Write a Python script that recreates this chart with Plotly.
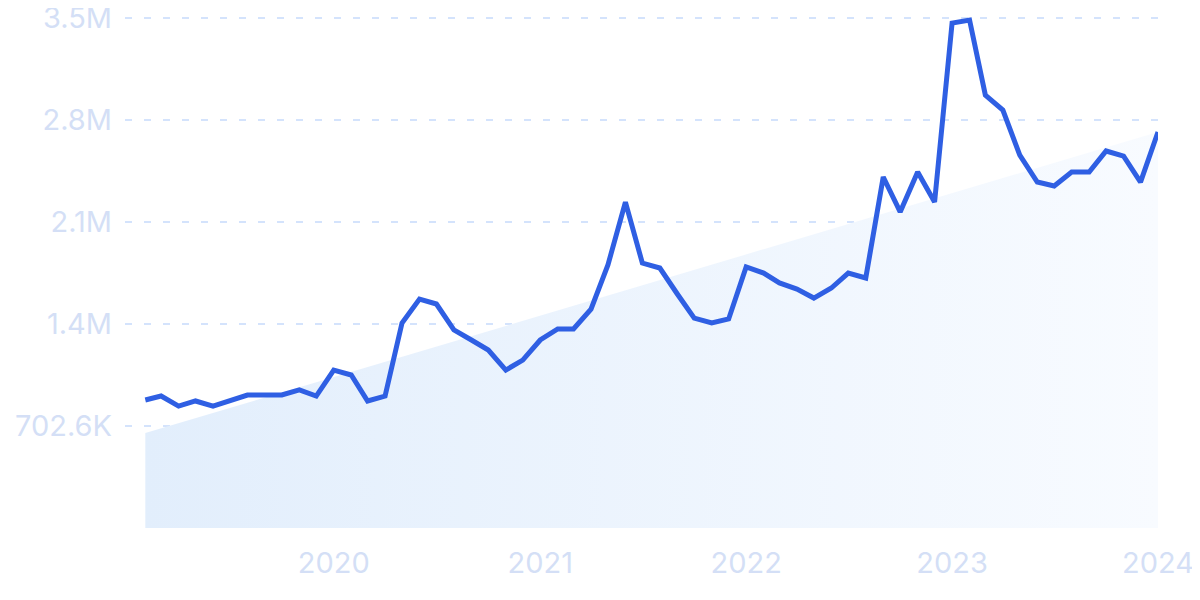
import plotly.graph_objects as go
import pandas as pd

dates = pd.date_range("2019-02-01", "2024-01-01", freq="MS")
values = [882, 909, 840, 875, 840, 875, 916, 916, 916, 951, 909, 1088,
          1054, 875, 909, 1412, 1577, 1543, 1364, 1295, 1226, 1088, 1157, 1295,
          1371, 1371, 1508, 1812, 2245, 1825, 1791, 1612, 1446, 1412, 1440, 1798,
          1756, 1688, 1646, 1584, 1653, 1756, 1722, 2418, 2177, 2452, 2245, 3478,
          3499, 2982, 2879, 2569, 2383, 2356, 2452, 2452, 2597, 2562, 2383, 2728]
values = [v * 1000 for v in values]

trend_dates = [dates[0], dates[-1]]
trend_values = [654000, 2728000]

tick_vals = [702600, 1405200, 2107800, 2810400, 3513000]
tick_text = ["702.6K", "1.4M", "2.1M", "2.8M", "3.5M"]
year_ticks = ["2020-01-01", "2021-01-01", "2022-01-01", "2023-01-01", "2024-01-01"]
year_labels = ["2020", "2021", "2022", "2023", "2024"]

fig = go.Figure()
fig.add_trace(go.Scatter(
    x=trend_dates, y=trend_values, mode="lines", line=dict(width=0),
    fill="tozeroy",
    fillgradient=dict(type="horizontal",
                      colorscale=[[0, "rgb(226,238,252)"], [1, "rgb(248,251,255)"]]),
    hoverinfo="skip", showlegend=False,
))
fig.add_trace(go.Scatter(
    x=dates, y=values, mode="lines",
    line=dict(color="#2F5FE3", width=5),
    showlegend=False,
))

fig.update_layout(
    width=1192, height=592,
    margin=dict(l=117, r=42, t=9, b=72, autoexpand=False),
    paper_bgcolor="white", plot_bgcolor="rgba(0,0,0,0)",
    font=dict(family="Inter, Noto Sans, sans-serif", size=29, color="rgb(212,223,246)"),
)
fig.update_xaxes(
    type="date", range=["2018-12-27", "2024-01-01"],
    tickvals=year_ticks, ticktext=year_labels,
    showgrid=False, zeroline=False, showline=False, ticks="",
    ticklabelstandoff=15, automargin=False, ticklabeloverflow="allow",
)
fig.update_yaxes(
    range=[0, 3520000], tickvals=tick_vals, ticktext=tick_text,
    showgrid=True, gridcolor="rgb(212,227,252)", gridwidth=2, griddash="7px,12px",
    zeroline=False, showline=False, ticks="",
    ticklabelstandoff=12, automargin=False, ticklabeloverflow="allow",
)

fig.write_html("out.html")
